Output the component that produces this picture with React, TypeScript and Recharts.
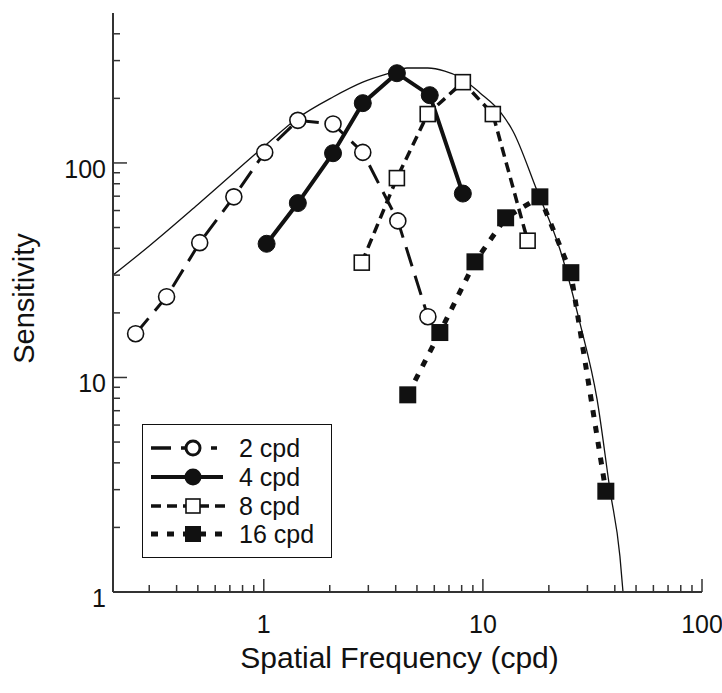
import React from 'react';
import { ComposedChart, Line, XAxis, YAxis, Legend } from 'recharts';

// spatial frequency (cpd) and sensitivity
const sf2 = [0.26, 0.36, 0.51, 0.73, 1.01, 1.43, 2.07, 2.83, 4.09, 5.61];
const sens2 = [16, 23.8, 42.5, 69.5, 112, 158, 152, 112, 53.7, 19.2];

const sf4 = [1.03, 1.43, 2.07, 2.83, 4.05, 5.72, 8.1];
const sens4 = [42, 65, 111, 190, 262, 207, 72];

const sf8 = [2.8, 4.05, 5.6, 8.1, 11.1, 16.0];
const sens8 = [34.3, 85, 169, 238, 169, 43.4];

const sf16 = [4.54, 6.36, 9.2, 12.7, 18.2, 25.2, 36.4];
const sens16 = [8.3, 16.2, 34.6, 55.5, 69.5, 30.8, 2.95];

// thin envelope curve
const sfModel = [0.205, 0.3, 0.5, 1.0, 1.43, 2.07, 2.83, 3.88, 4.5, 5.6, 6.7, 7.85, 9.7, 12.0, 13.7, 17.6, 22.5, 27.7, 33.2, 38.0, 42.2, 43.6];
const sensModel = [30, 41, 64, 119, 162, 203, 238, 265, 277, 277, 268, 251, 212, 173, 141, 75, 39.4, 18, 7.9, 3.0, 1.47, 1.0];

const seriesNames = ['2 cpd', '4 cpd', '8 cpd', '16 cpd'];

const xTicks = [0.3, 0.4, 0.5, 0.6, 0.7, 0.8, 0.9, 1, 2, 3, 4, 5, 6, 7, 8, 9, 10, 20, 30, 40, 50, 60, 70, 80, 90, 100];
const yTicks = [1, 2, 3, 4, 5, 6, 7, 8, 9, 10, 20, 30, 40, 50, 60, 70, 80, 90, 100, 200, 300, 400];
const majorTicks = [1, 10, 100];

const toPoints = (xs: number[], ys: number[]) => xs.map((x, i) => ({ x, y: ys[i] }));

const FONT = '"Liberation Sans", Arial, Helvetica, sans-serif';
const INK = '#111';
const AXIS = '#333';

const XTick = (props: any) => {
  const { x, y, payload } = props;
  const major = majorTicks.includes(payload.value);
  return (
    <g>
      <line x1={x} y1={y} x2={x} y2={y - (major ? 13 : 7)} stroke={AXIS} strokeWidth={1.5} />
      {major && (
        <text x={x} y={y + 41} textAnchor="middle" fontSize={25} fontFamily={FONT} fill={INK}>
          {payload.value}
        </text>
      )}
    </g>
  );
};

const YTick = (props: any) => {
  const { x, y, payload } = props;
  const major = majorTicks.includes(payload.value);
  return (
    <g>
      <line x1={x} y1={y} x2={x + (major ? 14 : 7)} y2={y} stroke={AXIS} strokeWidth={1.5} />
      {major && (
        <text x={x - 7} y={y + 15} textAnchor="end" fontSize={25} fontFamily={FONT} fill={INK}>
          {payload.value}
        </text>
      )}
    </g>
  );
};

const XTitle = (props: any) => {
  const vb = props.viewBox || {};
  return (
    <text x={vb.x + vb.width / 2 - 8} y={vb.y + 76} textAnchor="middle" fontSize={30} fontFamily={FONT} fill={INK}>
      Spatial Frequency (cpd)
    </text>
  );
};

const YTitle = (props: any) => {
  const vb = props.viewBox || {};
  const cx = 34;
  const cy = vb.y + vb.height / 2 - 4;
  return (
    <text x={cx} y={cy} transform={`rotate(-90 ${cx} ${cy})`} textAnchor="middle" fontSize={29} fontFamily={FONT} fill={INK}>
      Sensitivity
    </text>
  );
};

const OpenCircle = (p: any) => (
  <circle key={`oc-${p.index}`} cx={p.cx} cy={p.cy} r={8} fill="#fff" stroke={INK} strokeWidth={1.6} />
);
const FilledCircle = (p: any) => (
  <circle key={`fc-${p.index}`} cx={p.cx} cy={p.cy} r={8.5} fill={INK} stroke={INK} strokeWidth={1} />
);
const OpenSquare = (p: any) => (
  <rect key={`os-${p.index}`} x={p.cx - 7.5} y={p.cy - 7.5} width={15} height={15} fill="#fff" stroke={INK} strokeWidth={1.6} />
);
const FilledSquare = (p: any) => (
  <rect key={`fs-${p.index}`} x={p.cx - 8.5} y={p.cy - 8.5} width={17} height={17} fill={INK} />
);

const LegendBox = () => {
  const rowY = [23, 52, 81, 109];
  return (
    <div style={{ width: 190, height: 134, border: `1.5px solid ${INK}`, boxSizing: 'border-box', background: '#fff' }}>
      <svg width={188} height={132} style={{ display: 'block' }}>
        <line x1={8} x2={74} y1={rowY[0]} y2={rowY[0]} stroke={INK} strokeWidth={3.5} strokeDasharray="20 10" />
        <circle cx={50} cy={rowY[0]} r={7} fill="#fff" stroke={INK} strokeWidth={3} />
        <line x1={8} x2={80} y1={rowY[1]} y2={rowY[1]} stroke={INK} strokeWidth={4} />
        <circle cx={50} cy={rowY[1]} r={8.5} fill={INK} />
        <line x1={8} x2={88} y1={rowY[2]} y2={rowY[2]} stroke={INK} strokeWidth={3.5} strokeDasharray="10 6" />
        <rect x={43} y={rowY[2] - 7} width={14} height={14} fill="#fff" stroke={INK} strokeWidth={1.6} />
        <line x1={8} x2={80} y1={rowY[3]} y2={rowY[3]} stroke={INK} strokeWidth={5} strokeDasharray="7 9" />
        <rect x={42} y={rowY[3] - 8} width={16} height={16} fill={INK} />
        {seriesNames.map((name, i) => (
          <text key={name} x={96} y={rowY[i] + 9} fontSize={25} fontFamily={FONT} fill={INK}>
            {name}
          </text>
        ))}
      </svg>
    </div>
  );
};

export default function App() {
  return (
    <div style={{ position: 'absolute', left: 0, top: 0, width: 722, height: 693, background: '#fff' }}>
      <ComposedChart width={722} height={693} margin={{ top: 13, right: 20, bottom: 0, left: 0 }}>
        <XAxis
          dataKey="x"
          type="number"
          scale="log"
          domain={[0.205, 100]}
          allowDataOverflow
          ticks={xTicks}
          interval={0}
          height={101}
          tickSize={0}
          tickMargin={0}
          tickLine={false}
          tick={<XTick />}
          axisLine={{ stroke: AXIS, strokeWidth: 2 }}
          label={<XTitle />}
        />
        <YAxis
          dataKey="y"
          type="number"
          scale="log"
          domain={[1, 500]}
          allowDataOverflow
          ticks={yTicks}
          interval={0}
          width={113}
          tickSize={0}
          tickMargin={0}
          tickLine={false}
          tick={<YTick />}
          axisLine={{ stroke: AXIS, strokeWidth: 2 }}
          label={<YTitle />}
        />
        <Legend
          layout="horizontal"
          verticalAlign="middle"
          align="center"
          content={() => <LegendBox />}
          wrapperStyle={{ position: 'absolute', left: 142, top: 424, width: 190, height: 134 }}
        />
        <Line data={toPoints(sfModel, sensModel)} dataKey="y" type="monotone" stroke={INK} strokeWidth={1.3} dot={false} isAnimationActive={false} legendType="none" />
        <Line data={toPoints(sf16, sens16)} dataKey="y" name={seriesNames[3]} type="linear" stroke={INK} strokeWidth={5} strokeDasharray="7 9" dot={FilledSquare} isAnimationActive={false} />
        <Line data={toPoints(sf8, sens8)} dataKey="y" name={seriesNames[2]} type="linear" stroke={INK} strokeWidth={3.5} strokeDasharray="10 6" dot={OpenSquare} isAnimationActive={false} />
        <Line data={toPoints(sf4, sens4)} dataKey="y" name={seriesNames[1]} type="linear" stroke={INK} strokeWidth={4} dot={FilledCircle} isAnimationActive={false} />
        <Line data={toPoints(sf2, sens2)} dataKey="y" name={seriesNames[0]} type="linear" stroke={INK} strokeWidth={3} strokeDasharray="20 10" dot={OpenCircle} isAnimationActive={false} />
      </ComposedChart>
    </div>
  );
}
